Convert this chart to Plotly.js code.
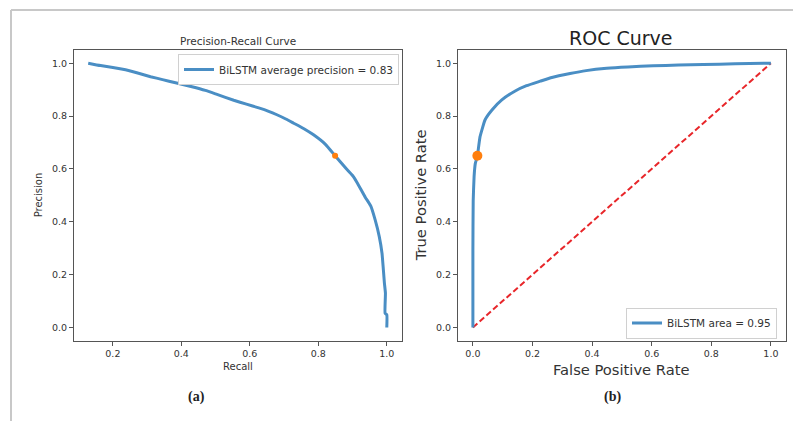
<!DOCTYPE html>
<html>
<head>
<meta charset="utf-8">
<script src="https://cdn.plot.ly/plotly-3.0.1.min.js"></script>
<style>
  html, body { margin: 0; padding: 0; background: #ffffff; }
  #chart { width: 793px; height: 421px; }
</style>
</head>
<body>
<div id="chart"></div>
<script>
// ---- Data ----
var prRecall = [0.128, 0.164, 0.200, 0.237, 0.275, 0.310, 0.345, 0.383, 0.431, 0.470,
                0.504, 0.553, 0.590, 0.626, 0.655, 0.679, 0.705, 0.728, 0.758, 0.786,
                0.820, 0.849, 0.878, 0.900, 0.913, 0.937, 0.953, 0.966, 0.978, 0.986,
                0.990, 0.993, 0.996, 0.995, 1.000, 1.000];
var prPrecision = [1.000, 0.991, 0.984, 0.975, 0.962, 0.949, 0.938, 0.926, 0.911, 0.897,
                   0.882, 0.860, 0.845, 0.831, 0.818, 0.805, 0.789, 0.773, 0.752, 0.729,
                   0.694, 0.650, 0.606, 0.575, 0.549, 0.493, 0.460, 0.407, 0.344, 0.281,
                   0.218, 0.168, 0.130, 0.054, 0.048, 0.000];
var prPointRecall = [0.849];
var prPointPrecision = [0.650];

var rocFpr = [0.000, 0.000, 0.001, 0.004, 0.008, 0.015, 0.024, 0.041, 0.064, 0.097,
              0.142, 0.180, 0.226, 0.265, 0.326, 0.380, 0.449, 0.520, 0.605, 0.690,
              0.773, 0.880, 1.000];
var rocTpr = [0.000, 0.290, 0.480, 0.571, 0.620, 0.649, 0.722, 0.786, 0.823, 0.861,
              0.895, 0.915, 0.932, 0.946, 0.961, 0.972, 0.981, 0.986, 0.990, 0.993,
              0.995, 0.998, 1.000];
var rocPointFpr = [0.015];
var rocPointTpr = [0.650];
var chanceX = [0, 1];
var chanceY = [0, 1];

var prLegendLabel = "BiLSTM average precision = 0.83";
var rocLegendLabel = "BiLSTM area = 0.95";
var tickVals = [0, 0.2, 0.4, 0.6, 0.8, 1.0];
var tickText = ["0.0", "0.2", "0.4", "0.6", "0.8", "1.0"];

// ---- Figure ----
var W = 793, H = 421;
function px(x) { return x / W; }
function py(y) { return 1 - y / H; }

var blue = "#4a8ec4";
var orange = "#ff7f0e";
var FONT = "DejaVu Sans, Liberation Sans, sans-serif";

var traces = [
  { x: prRecall, y: prPrecision, type: "scatter", mode: "lines",
    name: prLegendLabel, xaxis: "x", yaxis: "y", legend: "legend",
    line: { color: blue, width: 3, shape: "spline", smoothing: 0.4 }, hoverinfo: "skip" },
  { x: prPointRecall, y: prPointPrecision, type: "scatter", mode: "markers",
    xaxis: "x", yaxis: "y", showlegend: false,
    marker: { color: orange, size: 6 }, hoverinfo: "skip" },
  { x: chanceX, y: chanceY, type: "scatter", mode: "lines",
    xaxis: "x2", yaxis: "y2", showlegend: false,
    line: { color: "#e8262a", width: 2, dash: "6px,3px" }, hoverinfo: "skip" },
  { x: rocFpr, y: rocTpr, type: "scatter", mode: "lines",
    name: rocLegendLabel, xaxis: "x2", yaxis: "y2", legend: "legend2",
    line: { color: blue, width: 3, shape: "spline", smoothing: 0.4 }, hoverinfo: "skip" },
  { x: rocPointFpr, y: rocPointTpr, type: "scatter", mode: "markers",
    xaxis: "x2", yaxis: "y2", showlegend: false,
    marker: { color: orange, size: 10 }, hoverinfo: "skip" }
];

var axisCommon = {
  showgrid: false, zeroline: false,
  showline: true, mirror: true, linecolor: "#555555", linewidth: 1,
  ticks: "outside", ticklen: 4, tickwidth: 1, tickcolor: "#555555",
  tickvals: tickVals, ticktext: tickText,
  tickfont: { family: FONT, size: 9.5, color: "#333333" },
  automargin: false, fixedrange: true
};
function ax(extra) { return Object.assign({}, axisCommon, extra); }

var yTop = py(50), yBot = py(340.7);

var layout = {
  width: W, height: H,
  margin: { l: 0, r: 0, t: 0, b: 0, pad: 0 },
  paper_bgcolor: "#ffffff", plot_bgcolor: "#ffffff",
  font: { family: FONT, color: "#333333" },
  xaxis: ax({ domain: [px(74), px(401.7)], range: [0.0865, 1.0435], anchor: "y",
              tickvals: tickVals.slice(1), ticktext: tickText.slice(1) }),
  yaxis: ax({ domain: [yBot, yTop], range: [-0.05, 1.05], anchor: "x" }),
  xaxis2: ax({ domain: [px(458), px(785.8)], range: [-0.05, 1.05], anchor: "y2" }),
  yaxis2: ax({ domain: [yBot, yTop], range: [-0.05, 1.05], anchor: "x2" }),
  legend: {
    x: px(399), y: py(54), xanchor: "right", yanchor: "top",
    bgcolor: "#ffffff", bordercolor: "#d0d0d0", borderwidth: 1,
    font: { family: FONT, size: 10.5, color: "#333333" }
  },
  legend2: {
    x: px(777), y: py(338.5), xanchor: "right", yanchor: "bottom",
    bgcolor: "#ffffff", bordercolor: "#d0d0d0", borderwidth: 1,
    font: { family: FONT, size: 10.5, color: "#333333" }
  },
  shapes: [
    { type: "line", xref: "paper", yref: "paper", x0: px(11), x1: 1, y0: py(10), y1: py(10),
      line: { color: "#c8c8c8", width: 2 } },
    { type: "line", xref: "paper", yref: "paper", x0: px(11), x1: px(11), y0: py(10), y1: 0,
      line: { color: "#c8c8c8", width: 2 } }
  ],
  annotations: [
    { text: "Precision-Recall Curve", xref: "paper", yref: "paper",
      x: px(237.8), y: py(41), xanchor: "center", yanchor: "middle", showarrow: false,
      font: { family: FONT, size: 10.5, color: "#333333" } },
    { text: "ROC Curve", xref: "paper", yref: "paper",
      x: px(621), y: py(38.5), xanchor: "center", yanchor: "middle", showarrow: false,
      font: { family: FONT, size: 19, color: "#222222" } },
    { text: "Precision", xref: "paper", yref: "paper",
      x: px(38), y: py(195.3), xanchor: "center", yanchor: "middle", showarrow: false,
      textangle: -90, font: { family: FONT, size: 10, color: "#333333" } },
    { text: "Recall", xref: "paper", yref: "paper",
      x: px(238), y: py(366.7), xanchor: "center", yanchor: "middle", showarrow: false,
      font: { family: FONT, size: 10, color: "#333333" } },
    { text: "True Positive Rate", xref: "paper", yref: "paper",
      x: px(420), y: py(195.3), xanchor: "center", yanchor: "middle", showarrow: false,
      textangle: -90, font: { family: FONT, size: 14.7, color: "#333333" } },
    { text: "False Positive Rate", xref: "paper", yref: "paper",
      x: px(621.7), y: py(369), xanchor: "center", yanchor: "middle", showarrow: false,
      font: { family: FONT, size: 14.7, color: "#333333" } },
    { text: "<b>(a)</b>", xref: "paper", yref: "paper",
      x: px(196.5), y: py(396.7), xanchor: "center", yanchor: "middle", showarrow: false,
      font: { family: "Liberation Serif, serif", size: 14, color: "#222222" } },
    { text: "<b>(b)</b>", xref: "paper", yref: "paper",
      x: px(612.3), y: py(397), xanchor: "center", yanchor: "middle", showarrow: false,
      font: { family: "Liberation Serif, serif", size: 14, color: "#222222" } }
  ],
  showlegend: true
};

Plotly.newPlot("chart", traces, layout, { displayModeBar: false, staticPlot: true });
</script>
</body>
</html>
